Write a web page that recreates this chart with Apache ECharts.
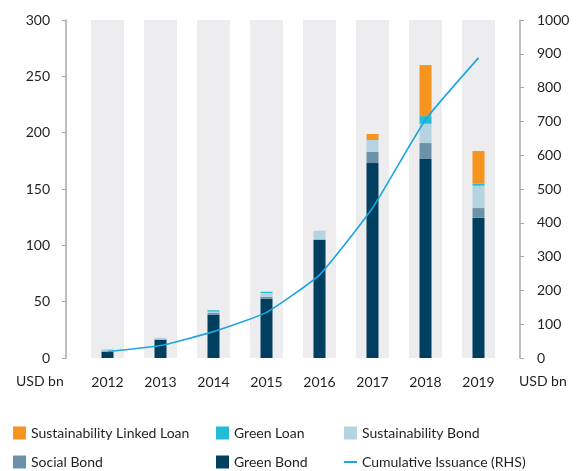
<!DOCTYPE html>
<html>
<head>
<meta charset="utf-8">
<script src="https://cdn.jsdelivr.net/npm/echarts@6/dist/echarts.min.js"></script>
<style>
html,body{margin:0;padding:0;background:#fff;}
#chart{width:580px;height:471px;}
</style>
</head>
<body>
<div id="chart"></div>
<script>
var years = ['2012','2013','2014','2015','2016','2017','2018','2019'];
var greenBond = [5.5, 16.2, 38.4, 52.6, 104.7, 173, 176.6, 124.5];
var socialBond = [0.5, 0.3, 1.5, 1.8, 0.6, 10, 14.2, 8.6];
var sustainabilityBond = [2, 1.5, 1.3, 3.3, 7.7, 10.5, 17.1, 19.8];
var greenLoan = [0, 0, 1.2, 1.1, 0, 0, 6.8, 1.8];
var sustainabilityLinkedLoan = [0, 0, 0, 0, 0, 5.3, 45.3, 29];
var cumulative = [19, 37, 78, 135, 246, 444, 705, 888];
var bandTop = [300, 300, 300, 300, 300, 300, 300, 300];
var leftTicks = {min: 0, max: 300, interval: 50};
var rightTicks = {min: 0, max: 1000, interval: 100};

var FONT = 'Lato';
var TXT = '#231f20';
var AX = '#a7a9ac';

var chart = echarts.init(document.getElementById('chart'), null, {renderer: 'canvas'});

function stackBar(name, data, color) {
  return {
    name: name, type: 'bar', stack: 'total', data: data,
    xAxisIndex: 0, yAxisIndex: 0, barWidth: 12,
    itemStyle: {color: color}, z: 3
  };
}

var legendText = {fontFamily: FONT, fontSize: 14, color: TXT};

function leg(name, left, top, isLine) {
  return {
    left: left, top: top, itemWidth: 13, itemHeight: isLine ? 2 : 13,
    icon: 'rect', textStyle: legendText, selectedMode: false, padding: 0,
    data: [name]
  };
}

var option = {
  animation: false,
  backgroundColor: '#ffffff',
  grid: {left: 81, right: 75, top: 20, bottom: 113},
  xAxis: [
    {
      type: 'category', data: years, gridIndex: 0,
      axisLine: {show: false}, axisTick: {show: false},
      axisLabel: {fontFamily: FONT, fontSize: 14, color: TXT, margin: 17}
    },
    {
      type: 'category', data: years, gridIndex: 0, show: false
    }
  ],
  yAxis: [
    {
      type: 'value', min: leftTicks.min, max: leftTicks.max, interval: leftTicks.interval,
      position: 'left', offset: 15,
      axisLine: {show: true, lineStyle: {color: AX, width: 1.5}},
      axisTick: {show: true, length: 4, lineStyle: {color: AX, width: 1}},
      axisLabel: {fontFamily: FONT, fontSize: 14, color: TXT, margin: 16},
      splitLine: {show: false}
    },
    {
      type: 'value', min: rightTicks.min, max: rightTicks.max, interval: rightTicks.interval,
      position: 'right', offset: 15,
      axisLine: {show: true, lineStyle: {color: AX, width: 1.5}},
      axisTick: {show: true, length: 4, lineStyle: {color: AX, width: 1}},
      axisLabel: {fontFamily: FONT, fontSize: 14, color: TXT, margin: 17,
        formatter: function (v) { return String(v); }},
      splitLine: {show: false}
    }
  ],
  legend: [
    leg('Sustainability Linked Loan', 13, 426, false),
    leg('Social Bond', 13, 455, false),
    leg('Green Loan', 216, 426, false),
    leg('Green Bond', 216, 455, false),
    leg('Sustainability Bond', 344, 426, false),
    leg('Cumulative Issuance (RHS)', 344, 455, true)
  ],
  graphic: [
    {type: 'text', left: 16, top: 374, style: {text: 'USD bn', font: '14px ' + FONT, fill: TXT}},
    {type: 'text', left: 519, top: 374, style: {text: 'USD bn', font: '14px ' + FONT, fill: TXT}}
  ],
  series: [
    {
      name: 'band', type: 'bar', data: bandTop, xAxisIndex: 1, yAxisIndex: 0,
      barWidth: 33, silent: true, itemStyle: {color: '#ededef'}, z: 1
    },
    stackBar('Green Bond', greenBond, '#003f5f'),
    stackBar('Social Bond', socialBond, '#6c92a9'),
    stackBar('Sustainability Bond', sustainabilityBond, '#b5d3e0'),
    stackBar('Green Loan', greenLoan, '#22bcd5'),
    stackBar('Sustainability Linked Loan', sustainabilityLinkedLoan, '#f7941d'),
    {
      name: 'Cumulative Issuance (RHS)', type: 'line', data: cumulative,
      xAxisIndex: 0, yAxisIndex: 1, smooth: 0.15, symbol: 'none',
      lineStyle: {color: '#1ba6e0', width: 1.6}, itemStyle: {color: '#1ba6e0'}, z: 5
    }
  ]
};
chart.setOption(option);
</script>
</body>
</html>
